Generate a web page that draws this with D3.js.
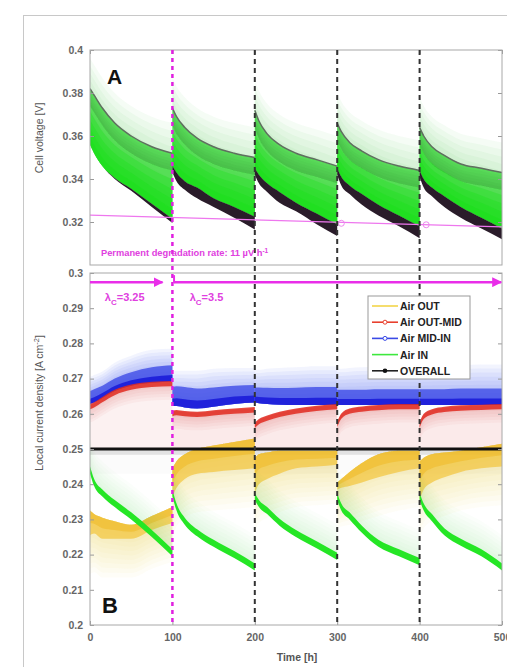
<!doctype html>
<html>
<head>
<meta charset="utf-8">
<title>Cell voltage and local current density</title>
<script src="https://d3js.org/d3.v7.min.js"></script>
<style>
  body { margin:0; background:#fff; }
  svg text { font-family: "Liberation Sans", Arial, sans-serif; }
</style>
</head>
<body>
<svg id="chart" width="507" height="667"></svg>
<script>
// each 100 h run is sampled at these hours after the restart
const segStart = [0, 100, 200, 300, 400];
const segHours = [0, 5, 15, 30, 50, 75, 100];

// A: cell voltage [V]
const voltMean = [
  [0.382, 0.379, 0.373, 0.366, 0.360, 0.355, 0.352],
  [0.373, 0.369, 0.364, 0.359, 0.355, 0.352, 0.350],
  [0.372, 0.367, 0.361, 0.356, 0.352, 0.349, 0.346],
  [0.366, 0.362, 0.357, 0.353, 0.349, 0.346, 0.344],
  [0.364, 0.360, 0.355, 0.351, 0.347, 0.345, 0.343]
];
const voltLowTop = [
  [0.356, 0.352, 0.346, 0.3405, 0.3355, 0.3285, 0.3215],
  [0.346, 0.343, 0.339, 0.336, 0.331, 0.327, 0.3225],
  [0.345, 0.342, 0.338, 0.334, 0.329, 0.324, 0.319],
  [0.345, 0.341, 0.337, 0.333, 0.328, 0.323, 0.318],
  [0.344, 0.340, 0.336, 0.332, 0.327, 0.322, 0.317]
];
const voltLowBottom = [
  [0.356, 0.352, 0.346, 0.340, 0.3345, 0.327, 0.3195],
  [0.343, 0.339, 0.335, 0.331, 0.327, 0.322, 0.3165],
  [0.342, 0.338, 0.334, 0.329, 0.325, 0.319, 0.3135],
  [0.342, 0.337, 0.333, 0.328, 0.323, 0.318, 0.3125],
  [0.341, 0.336, 0.332, 0.327, 0.322, 0.317, 0.312]
];
const degradationLine = [[0, 0.3232], [500, 0.3177]];
const degradationMarks = [[305, 0.3194], [408, 0.3187]];

// B: local current density [A cm-2]
const airOutTop = [
  [0.2325, 0.2315, 0.2305, 0.2295, 0.2285, 0.231, 0.2335],
  [0.2445, 0.2465, 0.2485, 0.2500, 0.2510, 0.2520, 0.2530],
  [0.2475, 0.2485, 0.2490, 0.2495, 0.2495, 0.2495, 0.2495],
  [0.2405, 0.2415, 0.2435, 0.2460, 0.2485, 0.2495, 0.2495],
  [0.2465, 0.2475, 0.2485, 0.2490, 0.2495, 0.2505, 0.2515]
];
const airOutBottom = [
  [0.2255, 0.2260, 0.2245, 0.2245, 0.2245, 0.2270, 0.2290],
  [0.2365, 0.2390, 0.2415, 0.2430, 0.2435, 0.2440, 0.2445],
  [0.2375, 0.2400, 0.2415, 0.2430, 0.2445, 0.2450, 0.2455],
  [0.2385, 0.2390, 0.2395, 0.2405, 0.2420, 0.2435, 0.2445],
  [0.2355, 0.2385, 0.2405, 0.2420, 0.2435, 0.2445, 0.2450]
];
const airOutMid = [
  [0.2625, 0.2630, 0.2645, 0.2665, 0.2680, 0.2688, 0.2690],
  [0.2605, 0.2608, 0.2605, 0.2603, 0.2607, 0.2612, 0.2616],
  [0.2572, 0.2582, 0.2592, 0.2603, 0.2612, 0.2620, 0.2625],
  [0.2575, 0.2598, 0.2612, 0.2618, 0.2622, 0.2625, 0.2625],
  [0.2572, 0.2597, 0.2610, 0.2617, 0.2621, 0.2623, 0.2625]
];
const airMidInBottom = [
  [0.2628, 0.2632, 0.2645, 0.2665, 0.2680, 0.2688, 0.2692],
  [0.2622, 0.2622, 0.2618, 0.2615, 0.2620, 0.2628, 0.2632],
  [0.2632, 0.2630, 0.2628, 0.2626, 0.2625, 0.2625, 0.2625],
  [0.2625, 0.2625, 0.2625, 0.2625, 0.2625, 0.2625, 0.2625],
  [0.2625, 0.2625, 0.2625, 0.2625, 0.2625, 0.2625, 0.2625]
];
const airMidInDense = [
  [0.2665, 0.2670, 0.2680, 0.2700, 0.2718, 0.2732, 0.2738],
  [0.2675, 0.2678, 0.2676, 0.2672, 0.2675, 0.2680, 0.2682],
  [0.2675, 0.2675, 0.2674, 0.2673, 0.2674, 0.2676, 0.2676],
  [0.2668, 0.2668, 0.2668, 0.2668, 0.2670, 0.2670, 0.2670],
  [0.2670, 0.2670, 0.2670, 0.2670, 0.2672, 0.2672, 0.2672]
];
const airMidInLight = [
  [0.2705, 0.2710, 0.2720, 0.2745, 0.2765, 0.2782, 0.2785],
  [0.2718, 0.2722, 0.2722, 0.2722, 0.2728, 0.2730, 0.2730],
  [0.2725, 0.2725, 0.2728, 0.2730, 0.2732, 0.2735, 0.2735],
  [0.2728, 0.2728, 0.2730, 0.2732, 0.2734, 0.2735, 0.2735],
  [0.2735, 0.2735, 0.2736, 0.2737, 0.2738, 0.2740, 0.2740]
];
const airIn = [
  [0.2440, 0.2405, 0.2375, 0.2345, 0.2310, 0.2260, 0.2205],
  [0.2375, 0.2335, 0.2295, 0.2262, 0.2232, 0.2200, 0.2165],
  [0.2365, 0.2345, 0.2325, 0.2292, 0.2260, 0.2228, 0.2195],
  [0.2365, 0.2335, 0.2310, 0.2272, 0.2232, 0.2205, 0.2180],
  [0.2365, 0.2335, 0.2305, 0.2265, 0.2235, 0.2205, 0.2165]
];
const overallLine = [[0, 0.25], [500, 0.25]];

const changeTimes = [100, 200, 300, 400];
const xTicks = [0, 100, 200, 300, 400, 500];
const yTicksA = [0.32, 0.34, 0.36, 0.38, 0.4];
const yTicksB = [0.2, 0.21, 0.22, 0.23, 0.24, 0.25, 0.26, 0.27, 0.28, 0.29, 0.3];
const legendNames = ["Air OUT", "Air OUT-MID", "Air MID-IN", "Air IN", "OVERALL"];
const legendColors = ["#f3d54a", "#e8402e", "#3a4ae6", "#3ee83e", "#222"];

const svg = d3.select("#chart");
const x  = d3.scaleLinear().domain([0, 500]).range([90, 502]);
const yA = d3.scaleLinear().domain([0.3, 0.4]).range([265, 50]);
const yB = d3.scaleLinear().domain([0.2, 0.3]).range([625, 273]);

// outer figure frame
svg.append("rect").attr("x", 23.5).attr("y", 15.5).attr("width", 600).attr("height", 700)
   .attr("fill", "none").attr("stroke", "#c8c8c8");

const defs = svg.append("defs");
defs.append("clipPath").attr("id", "clipA").append("rect")
   .attr("x", 90).attr("y", 50).attr("width", 412).attr("height", 215);
defs.append("clipPath").attr("id", "clipB").append("rect")
   .attr("x", 90).attr("y", 273).attr("width", 412).attr("height", 352);
defs.append("marker").attr("id", "arrow").attr("viewBox", "0 0 10 10")
   .attr("refX", 9).attr("refY", 5).attr("markerWidth", 4).attr("markerHeight", 4)
   .attr("orient", "auto")
   .append("path").attr("d", "M0,0L10,5L0,10z").attr("fill", "#e92ee9");

function segRows(s, lo, hi) {
  return segHours.map((h, i) => ({ t: segStart[s] + h, lo: lo(i), hi: hi(i) }));
}
function drawBand(g, y, data, fill, op) {
  g.append("path").datum(data)
    .attr("d", d3.area().x(d => x(d.t)).y0(d => y(d.lo)).y1(d => y(d.hi)).curve(d3.curveMonotoneX))
    .attr("fill", fill).attr("fill-opacity", op);
}
function drawLine(g, y, data, stroke, w) {
  g.append("path").datum(data)
    .attr("d", d3.line().x(d => x(d.t)).y(d => y(d.lo)).curve(d3.curveMonotoneX))
    .attr("fill", "none").attr("stroke", stroke).attr("stroke-width", w);
}
// soft cloud: many thin steps so the fade has no visible bands
function drawFade(g, y, s, lo, hi, steps, fill, op) {
  for (let k = 0; k < steps; k++) {
    const f = 1 - k / steps;
    drawBand(g, y, segRows(s, lo, i => lo(i) + (hi(i) - lo(i)) * f), fill, op);
  }
}

// ---- panel A
const gA = svg.append("g").attr("clip-path", "url(#clipA)");
segStart.forEach((t0, s) => {
  const mean = i => voltMean[s][i], top = i => voltLowTop[s][i], bot = i => voltLowBottom[s][i];
  drawFade(gA, yA, s, top, i => mean(i) + 0.014, 12, "#44cc44", 0.05);
  drawBand(gA, yA, segRows(s, top, mean), "#2bd82b", 0.7);
  drawFade(gA, yA, s, i => mean(i) - 0.008, mean, 6, "#3a8a3a", 0.06);
  drawFade(gA, yA, s, top, i => top(i) + 0.6 * (mean(i) - top(i)), 4, "#14e014", 0.3);
  drawBand(gA, yA, segRows(s, bot, top), "#2a1c2a", 1);
  drawLine(gA, yA, segRows(s, mean, mean), "#5f6f5f", 1.5);
});
gA.append("line")
  .attr("x1", x(degradationLine[0][0])).attr("y1", yA(degradationLine[0][1]))
  .attr("x2", x(degradationLine[1][0])).attr("y2", yA(degradationLine[1][1]))
  .attr("stroke", "#ee77ee").attr("stroke-width", 1.2);
gA.selectAll("circle.deg").data(degradationMarks).join("circle")
  .attr("cx", d => x(d[0])).attr("cy", d => yA(d[1])).attr("r", 3)
  .attr("fill", "none").attr("stroke", "#ee88ee");

// ---- panel B
const gB = svg.append("g").attr("clip-path", "url(#clipB)");
segStart.forEach((t0, s) => {
  const red = i => airOutMid[s][i];
  drawBand(gB, yB, segRows(s, () => 0.2503, red), "#f0b4b4", s === 0 ? 0.18 : 0.28);
  drawBand(gB, yB, segRows(s, () => 0.243, () => 0.25), "#aaaaaa", 0.05);
  drawBand(gB, yB, segRows(s, () => 0.2484, () => 0.25), "#888888", 0.22);
  const bb = i => airMidInBottom[s][i], bd = i => airMidInDense[s][i], bl = i => airMidInLight[s][i];
  drawFade(gB, yB, s, bb, bl, 10, "#7282f0", 0.09);
  drawBand(gB, yB, segRows(s, bb, bd), "#3543e6", 0.75);
  drawBand(gB, yB, segRows(s, bb, i => bb(i) + 0.4 * (bd(i) - bb(i))), "#1818d8", 0.85);
  drawFade(gB, yB, s, red, i => red(i) - 0.005, 6, "#e05050", 0.05);
  drawBand(gB, yB, segRows(s, i => red(i) - 0.0012, i => red(i) + 0.0003), "#e02a20", 0.85);
});
segStart.forEach((t0, s) => {
  const yt = i => airOutTop[s][i], yb = i => airOutBottom[s][i];
  drawFade(gB, yB, s, yt, i => yb(i) - 0.011, 12, "#f3cf50", 0.045);
  drawBand(gB, yB, segRows(s, yb, yt), "#f2c230", 0.65);
  drawBand(gB, yB, segRows(s, i => yb(i) + 0.5 * (yt(i) - yb(i)), yt), "#efb820", 0.5);
  const g = i => airIn[s][i];
  drawFade(gB, yB, s, g, i => g(i) + 0.009, 8, "#5ee65e", 0.025);
  drawBand(gB, yB, segRows(s, i => g(i) - 0.001, i => g(i) + 0.001), "#25e625", 1);
});
gB.append("line")
  .attr("x1", x(overallLine[0][0])).attr("y1", yB(overallLine[0][1]))
  .attr("x2", x(overallLine[1][0])).attr("y2", yB(overallLine[1][1]))
  .attr("stroke", "#111").attr("stroke-width", 3);

// ---- axes and frames
function styleAxis(g) {
  g.select(".domain").remove();
  g.selectAll(".tick line").attr("stroke", "#999");
  g.selectAll(".tick text").attr("fill", "#666").attr("font-size", 10.5).attr("font-weight", "bold");
}
const fmt = d3.format(".2~f");
svg.append("g").attr("transform", "translate(90,0)")
  .call(d3.axisLeft(yA).tickValues(yTicksA).tickFormat(fmt).tickSize(-4).tickPadding(7)).call(styleAxis);
svg.append("g").attr("transform", "translate(502,0)")
  .call(d3.axisRight(yA).tickValues(yTicksA).tickFormat("").tickSize(-4)).call(styleAxis);
svg.append("g").attr("transform", "translate(90,0)")
  .call(d3.axisLeft(yB).tickValues(yTicksB).tickFormat(fmt).tickSize(-4).tickPadding(7)).call(styleAxis);
svg.append("g").attr("transform", "translate(502,0)")
  .call(d3.axisRight(yB).tickValues(yTicksB).tickFormat("").tickSize(-4)).call(styleAxis);
svg.append("g").attr("transform", "translate(0,625)")
  .call(d3.axisBottom(x).tickValues(xTicks).tickSize(-4).tickPadding(9)).call(styleAxis);
svg.append("g").attr("transform", "translate(0,50)")
  .call(d3.axisTop(x).tickValues(xTicks).tickFormat("").tickSize(-4)).call(styleAxis);

[[yA, 0.3, 0.4], [yB, 0.2, 0.3]].forEach(([y, lo, hi]) => {
  svg.append("rect").attr("x", x(0)).attr("y", y(hi))
    .attr("width", x(500) - x(0)).attr("height", y(lo) - y(hi))
    .attr("fill", "none").attr("stroke", "#a8a8a8");
});

// restart markers
svg.selectAll("line.change").data(changeTimes).join("line")
  .attr("x1", d => x(d)).attr("x2", d => x(d))
  .attr("y1", yA(0.4)).attr("y2", yB(0.2))
  .attr("stroke", d => d === 100 ? "#e020e0" : "#333")
  .attr("stroke-width", d => d === 100 ? 2.5 : 2)
  .attr("stroke-dasharray", d => d === 100 ? "4,4" : "5,4");

// stoichiometry arrows
const arrowY = 0.2974;
const arrows = [[0, 88], [102, 499]];
svg.selectAll("line.arr").data(arrows).join("line")
  .attr("x1", d => x(d[0])).attr("x2", d => x(d[1]))
  .attr("y1", yB(arrowY)).attr("y2", yB(arrowY))
  .attr("stroke", "#e92ee9").attr("stroke-width", 2.5)
  .attr("marker-end", "url(#arrow)");
svg.append("line").attr("x1", x(102)).attr("x2", x(102))
  .attr("y1", yB(arrowY) - 7).attr("y2", yB(arrowY) + 1)
  .attr("stroke", "#e92ee9").attr("stroke-width", 2);

const lambdas = [[18, "3.25"], [121, "3.5"]];
lambdas.forEach(([t, v]) => {
  const tx = svg.append("text").attr("x", x(t)).attr("y", 301)
    .attr("fill", "#e040e0").attr("font-size", 11).attr("font-weight", "bold");
  tx.append("tspan").text("λ");
  tx.append("tspan").attr("dy", 4).attr("font-size", 8).text("C");
  tx.append("tspan").attr("dy", -4).text("=" + v);
});

const deg = svg.append("text").attr("x", 101).attr("y", 256)
  .attr("fill", "#e040e0").attr("font-size", 9.3).attr("font-weight", "bold");
deg.append("tspan").text("Permanent degradation rate: 11 µV h");
deg.append("tspan").attr("dy", -3).attr("font-size", 6.5).text("-1");

// panel letters
svg.append("text").attr("x", 107).attr("y", 84).attr("font-size", 21)
  .attr("font-weight", "bold").attr("fill", "#111").text("A");
svg.append("text").attr("x", 102).attr("y", 613).attr("font-size", 22)
  .attr("font-weight", "bold").attr("fill", "#111").text("B");

// axis titles
svg.append("text").attr("transform", "translate(43,138) rotate(-90)")
  .attr("text-anchor", "middle").attr("fill", "#555").attr("font-size", 10.5)
  .text("Cell voltage [V]");
const yt = svg.append("text").attr("transform", "translate(43,403) rotate(-90)")
  .attr("text-anchor", "middle").attr("fill", "#555").attr("font-size", 10.5);
yt.append("tspan").text("Local current density [A cm");
yt.append("tspan").attr("dy", -4).attr("font-size", 7.5).text("-2");
yt.append("tspan").attr("dy", 4).text("]");
svg.append("text").attr("x", 297).attr("y", 661).attr("text-anchor", "middle")
  .attr("fill", "#555").attr("font-size", 10.5).attr("font-weight", "bold").text("Time [h]");

// legend
const leg = svg.append("g").attr("transform", "translate(368,296)");
leg.append("rect").attr("width", 102).attr("height", 83)
  .attr("fill", "#fff").attr("stroke", "#999");
const items = leg.selectAll("g").data(legendNames).join("g")
  .attr("transform", (d, i) => `translate(0,${10 + i * 16.2})`);
items.append("line").attr("x1", 4).attr("x2", 30)
  .attr("stroke", (d, i) => legendColors[i]).attr("stroke-width", 1.6);
items.filter((d, i) => i === 1 || i === 2).append("circle")
  .attr("cx", 17).attr("r", 2).attr("fill", "#fff")
  .attr("stroke", (d, i) => legendColors[i + 1]);
items.filter((d, i) => i === 4).append("circle")
  .attr("cx", 17).attr("r", 2.3).attr("fill", "#111");
items.append("text").attr("x", 32).attr("y", 4)
  .attr("font-size", 10.5).attr("font-weight", "bold").attr("fill", "#222")
  .text(d => d);
</script>
</body>
</html>
